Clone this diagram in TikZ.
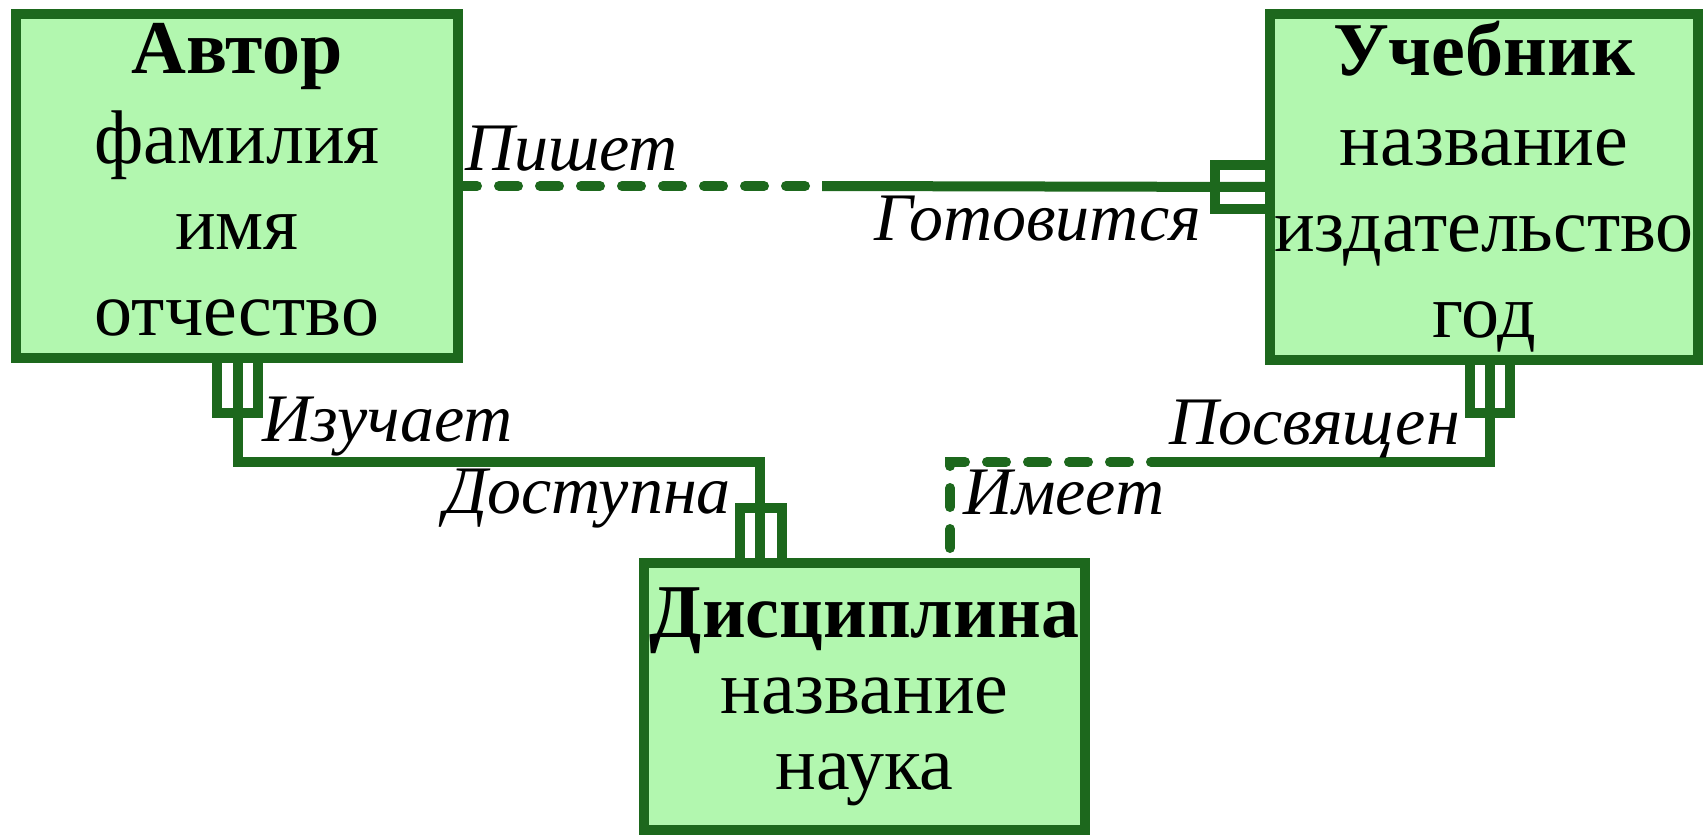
\documentclass[tikz,border=0pt]{standalone}
\usepackage{fontspec}
\setmainfont{Liberation Serif}
\usetikzlibrary{calc}
\definecolor{erfill}{RGB}{178,247,175}
\definecolor{erline}{RGB}{29,104,29}
\begin{document}
\begin{tikzpicture}[x=1pt,y=-1pt,
  entity/.style={draw=erline, fill=erfill, line width=10pt, rectangle,
    inner sep=0pt, outer sep=0pt, align=center,
    font=\fontsize{76}{86}\selectfont},
  link/.style={draw=erline, line width=10pt, line join=miter},
  optional/.style={link, line cap=round, dash pattern=on 19pt off 22pt},
  role/.style={font=\fontsize{68}{68}\selectfont\itshape, inner sep=0pt},
]
\useasboundingbox (0,0) rectangle (1704,835);

% entities
\node[entity, minimum width=442pt, minimum height=344pt] (author) at (237,186)
  {\textbf{Автор}\\[4pt]фамилия\\имя\\отчество\rule[-14pt]{0pt}{0pt}};
\node[entity, minimum width=428pt, minimum height=346pt] (book) at (1484,187)
  {\textbf{Учебник}\\[4pt]название\\издательство\\год\rule[-10pt]{0pt}{0pt}};
\node[entity, minimum width=441pt, minimum height=267pt,
      font=\fontsize{76}{76}\selectfont] (disc) at (864.5,696.5)
  {\textbf{Дисциплина}\\название\\наука};

% bend points and dash/solid change points
\coordinate (w1) at (822,186);
\coordinate (j1) at (238,462);
\coordinate (j2) at (760,462);
\coordinate (j3) at (1490,462);
\coordinate (w2) at (1170,462);
\coordinate (j4) at (950,462);

% Автор -- Учебник
\draw[optional] (author.east) -- (w1);
\draw[link] (w1) -- (book.west);
\draw[link] ([xshift=-55pt]book.west) ++(0,-22) coordinate (bw1)
  (book.west) ++(0,-22) -- (bw1) -- ++(0,44) -- ++(55,0);

% Автор -- Дисциплина
\draw[link] ([xshift=1pt]author.south) -- (j1) -- (j2) -- (j2 |- disc.north);
\draw[link] ([xshift=-20pt]author.south) -- ++(0,55) -- ++(41,0) -- ++(0,-55);
\draw[link] (disc.north -| 740,0) -- ++(0,-55) -- ++(42,0) -- ++(0,55);

% Учебник -- Дисциплина
\draw[link] ([xshift=6pt]book.south) -- (j3) -- (w2);
\draw[optional] (w2) -- (j4) -- (j4 |- disc.north);
\draw[link] ([xshift=-14pt]book.south) -- ++(0,53) -- ++(40,0) -- ++(0,-53);

% roles
\node[role, anchor=base west] (r1) at (465,170) {Пишет};
\node[role, anchor=base east] (r2) at (1201,240) {Готовится};
\node[role, anchor=base west] (r3) at (262,441) {Изучает};
\node[role, anchor=base east] (r4) at (731,513) {Доступна};
\node[role, anchor=base east] (r5) at (1460,444) {Посвящен};
\node[role, anchor=base west] (r6) at (963,514) {Имеет};
\end{tikzpicture}
\end{document}
